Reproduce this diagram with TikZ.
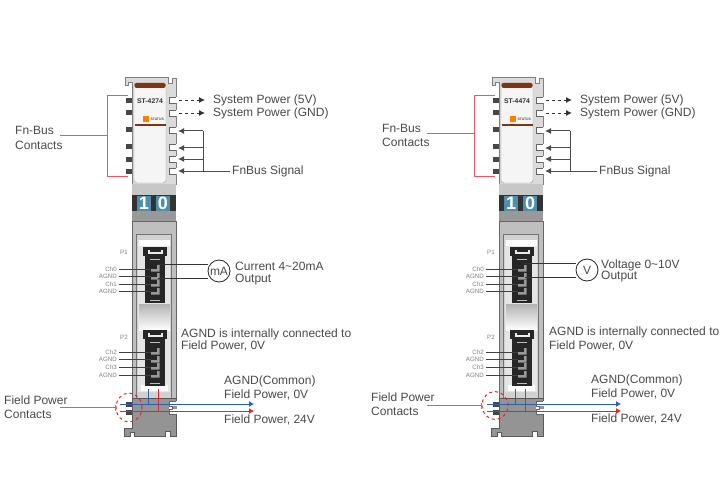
\documentclass[tikz,border=0pt]{standalone}
\usepackage{fontspec}
\setmainfont{Liberation Sans}
\usetikzlibrary{arrows.meta,shapes.geometric}
\definecolor{txtgray}{HTML}{4A4A4A}
\definecolor{redline}{HTML}{EE5566}
\definecolor{busblue}{HTML}{2E5FB0}
\definecolor{busred}{HTML}{E8222C}
\definecolor{dialblue}{HTML}{4F8FA8}
\definecolor{capbrown}{HTML}{7F3512}
\tikzset{
  lbl/.style={font=\fontsize{12}{14}\selectfont,text=txtgray,anchor=west,inner sep=0pt},
  chlbl/.style={font=\fontsize{6.2}{7}\selectfont,text=gray,anchor=east,inner sep=0pt},
  redwire/.style={draw=redline,line width=1pt},
  sigwire/.style={draw=black!70,line width=1pt},
  sigtip/.style={-{Latex[length=6pt,width=6pt]}},
  meter/.style={draw=black!85,fill=white,circle,minimum size=22pt,inner sep=0pt,line width=.8pt,font=\fontsize{12}{14}\selectfont,text=txtgray},
  digit/.style={fill=dialblue,text=white,font=\fontsize{18}{18}\bfseries\selectfont,minimum width=14pt,minimum height=15.5pt,inner sep=0pt},
  contact/.style={fill=black!72,draw=none}
}
% one terminal block of the slice, y is given by the shift
\newcommand{\termblock}{%
\fill[black!85] (143,0) rectangle (167,9);
\fill[black!85] (145,9) rectangle (165,56);
\fill[white!85!gray] (148,3) rectangle (163,7);
\fill[black!85] (150,3) rectangle (161,5);
\fill[gray!50] (150,12) rectangle (160,13);
\fill[gray!50] (150,53) rectangle (160,54);
\foreach \y in {18,26,33,41}{
  \fill[black!40] (157,\y) -- (159.5,\y) -- (159.5,\y+6.5) -- (151,\y+6.5) -- (151,\y+4) -- (157,\y+4) -- cycle;
}
}
% the slice: #1 name prefix, #2 title
\newcommand{\ioslice}[2]{%
\fill[black!14,draw=black!50,line width=.7pt] (132,184) -- (132,82) -- (128,82) -- (128,85) -- (125,85) -- (125,77) -- (168,77) -- (168,83) -- (172,83) -- (172,78) -- (176,78) -- (176,184) -- cycle;
\fill[white!96!black,draw=black!40,rounded corners=3pt] (134,83) rectangle (166,183);
\fill[capbrown,rounded corners=2pt] (134.5,83) rectangle (165.5,88);
\fill[capbrown] (134.5,124.5) rectangle (165.5,125.8);
\node[inner sep=0pt,font=\fontsize{6.8}{8}\bfseries\selectfont,text=black!80] (#1title) at (150,101) {#2};
\fill[orange] (143,116) rectangle (148.5,122);
\node[inner sep=0pt,font=\fontsize{3.4}{4}\bfseries\selectfont,text=black!70,anchor=west] (#1status) at (150.5,119.5) {STATUS};
\foreach \y in {101,113,130,147,159,171}{
  \fill[contact] (126,\y-2.5) rectangle (132,\y+2.5);
}
\foreach \y in {100,113,130,147,159,171}{
  \fill[white] (169,\y-3) rectangle (177,\y+3);
  \draw[black!60,line width=.6pt] (176,\y-3) -- (169,\y-3) -- (169,\y+3) -- (176,\y+3);
}
\fill[black!22] (132,184) rectangle (176,195);
\fill[black!80] (132,195) rectangle (176,211);
\node[digit] (#1dig) at (144,203.5) {1};
\node[digit] (#1dign) at (163,203.5) {0};
\fill[black!40] (132,211) rectangle (176,221);
\fill[black!25,draw=black!60,line width=.8pt] (132,221) rectangle (176,404);
\fill[black!18,draw=black!55] (136,234) rectangle (171,398);
\fill[black!10] (138,240) rectangle (170,392);
\fill[top color=black!30,bottom color=white] (139,304) rectangle (170,330);
\fill[white] (139,240) rectangle (170,246);
\fill[white] (141,385) rectangle (168,391);
\begin{scope}[shift={(0,247)}]\termblock\end{scope}
\begin{scope}[shift={(0,330)}]\termblock\end{scope}
\fill[black!42,draw=black!65,line width=.6pt] (176,398) -- (176,436) -- (170,436) -- (170,431) -- (165,431) -- (165,436) -- (134,436) -- (134,432) -- (130,432) -- (130,436) -- (124,436) -- (124,428) -- (132,428) -- (132,398) -- cycle;
\fill[white] (169,401) rectangle (177,414);
\fill[black!42] (172,406) rectangle (177,409);
\draw[black!60,line width=.6pt] (176,401) -- (169,401) -- (169,406) -- (172,406) -- (172,409) -- (169,409) -- (169,414) -- (176,414);
\fill[contact] (126,401.5) rectangle (132,406.5);
\fill[contact] (126,409.5) rectangle (132,414.5);
\node[chlbl] (#1pone) at (128,252) {P1};
\node[chlbl] (#1ptwo) at (128,337) {P2};
\foreach \y/\t/\n in {269/Ch0/a,276/AGND/b,284/Ch1/c,291/AGND/d,352/Ch2/e,359/AGND/f,367/Ch3/g,375/AGND/h}{
  \node[chlbl] (#1ch\n) at (117,\y) {\t};
  \coordinate (#1pin\n) at (151,\y);
  \draw[black!75,line width=.7pt] (#1ch\n.east) ++(2,0) -- (#1pin\n);
}
\coordinate (#1bracktop) at (128,96);
\coordinate (#1brackbot) at (128,176);
\coordinate (#1sysa) at (179,100);
\coordinate (#1sysb) at (179,113);
\foreach \y/\n in {131/a,148/b,159/c,171/d}{
  \coordinate (#1sig\n) at (178,\y);
  \coordinate (#1bus\n) at (203,\y);
  \draw[sigwire,sigtip] (#1bus\n) -- (#1sig\n);
}
\draw[sigwire] (#1busa) -- (#1busd);
\node[lbl] (#1sigtxt) at (232,171) {FnBus Signal};
\draw[sigwire] (#1busd) -- ([xshift=-2pt]#1sigtxt.west);
\node[lbl] (#1pwra) at (213,100) {System Power (5V)};
\node[lbl] (#1pwrb) at (213,113) {System Power (GND)};
\draw[dashed,black!80,line width=.9pt,sigtip] (#1sysa) -- ([xshift=-8pt]#1pwra.west);
\draw[dashed,black!80,line width=.9pt,sigtip] (#1sysb) -- ([xshift=-8pt]#1pwrb.west);
\coordinate (#1bluea) at (120,404);
\coordinate (#1blueb) at (254,404);
\coordinate (#1reda) at (120,411);
\coordinate (#1redb) at (254,411);
\coordinate (#1taba) at (148,389);
\coordinate (#1tabb) at (158,389);
\draw[draw=busblue,line width=.9pt] (#1taba) -- (#1taba |- #1bluea);
\draw[draw=busred,line width=.9pt] (#1tabb) -- (#1tabb |- #1reda);
\draw[draw=busblue,line width=1pt,-{Latex[length=5pt,width=6pt]}] (#1bluea) -- (#1blueb);
\draw[draw=busred,line width=1pt,-{Latex[length=5pt,width=6pt]}] (#1reda) -- (#1redb);
}
\begin{document}
\begin{tikzpicture}[x=1pt,y=-1pt]
\useasboundingbox (0,0) rectangle (720,500);
\fill[white] (0,0) rectangle (720,500);
% left slice, current output
\ioslice{a}{ST-4274}
\node[lbl] (afna) at (15,130) {Fn-Bus};
\node[lbl] (afnb) at (15,145) {Contacts};
\coordinate (abrack) at (60,136);
\draw[redwire] (abrack) -- (107,136);
\draw[redwire] (abracktop) -- (107,96) -- (107,176) -- (abrackbot);
\node[meter] (ameter) at (219,271) {mA};
\coordinate (aouta) at (158,264);
\coordinate (aoutb) at (158,278);
\draw[black!80,line width=.7pt] (aouta) -- (aouta -| ameter.west);
\draw[black!80,line width=.7pt] (aoutb) -- (aoutb -| ameter.west);
\node[lbl] (aouttxt) at (235,266) {Current 4\textasciitilde 20mA};
\node[lbl] (aouttxb) at (235,280) {Output};
\node[lbl] (anota) at (181,334) {AGND is internally connected to};
\node[lbl] (anotb) at (181,346) {Field Power, 0V};
\node[lbl] (acom) at (224,381) {AGND(Common)};
\node[lbl] (azero) at (224,395) {Field Power, 0V};
\node[lbl] (apos) at (224,420) {Field Power, 24V};
\node[lbl] (afpa) at (4,400) {Field Power};
\node[lbl] (afpb) at (4,414) {Contacts};
\node[draw=busred,dashed,ellipse,minimum width=26pt,minimum height=29pt,inner sep=0pt,line width=1pt] (aring) at (129,407.5) {};
\coordinate (afield) at (60,407.5);
\draw[redwire] (afield) -- (aring.west);
\draw[redwire] ([yshift=-3pt]aring.west) -- ([yshift=3pt]aring.west);
% right slice, voltage output
\begin{scope}[shift={(367,0)}]
\ioslice{b}{ST-4474}
\end{scope}
\node[lbl] (bfna) at (382,128) {Fn-Bus};
\node[lbl] (bfnb) at (382,142) {Contacts};
\coordinate (bbrack) at (427,134);
\draw[redwire] (bbrack) -- (474,134);
\draw[redwire] (bbracktop) -- (474,96) -- (474,176) -- (bbrackbot);
\node[meter] (bmeter) at (587,270) {V};
\coordinate (bouta) at (525,263);
\coordinate (boutb) at (525,277);
\draw[black!80,line width=.7pt] (bouta) -- (bouta -| bmeter.west);
\draw[black!80,line width=.7pt] (boutb) -- (boutb -| bmeter.west);
\node[lbl] (bouttxt) at (601,265) {Voltage 0\textasciitilde 10V};
\node[lbl] (bouttxb) at (601,277) {Output};
\node[lbl] (bnota) at (549,332) {AGND is internally connected to};
\node[lbl] (bnotb) at (549,346) {Field Power, 0V};
\node[lbl] (bcom) at (591,380) {AGND(Common)};
\node[lbl] (bzero) at (591,394) {Field Power, 0V};
\node[lbl] (bpos) at (591,419) {Field Power, 24V};
\node[lbl] (bfpa) at (371,397) {Field Power};
\node[lbl] (bfpb) at (371,411) {Contacts};
\node[draw=busred,dashed,ellipse,minimum width=26pt,minimum height=28pt,inner sep=0pt,line width=1pt] (bring) at (495,405.5) {};
\coordinate (bfield) at (427,405.5);
\draw[redwire] (bfield) -- (bring.west);
\draw[redwire] ([yshift=-3pt]bring.west) -- ([yshift=3pt]bring.west);
\end{tikzpicture}
\end{document}
